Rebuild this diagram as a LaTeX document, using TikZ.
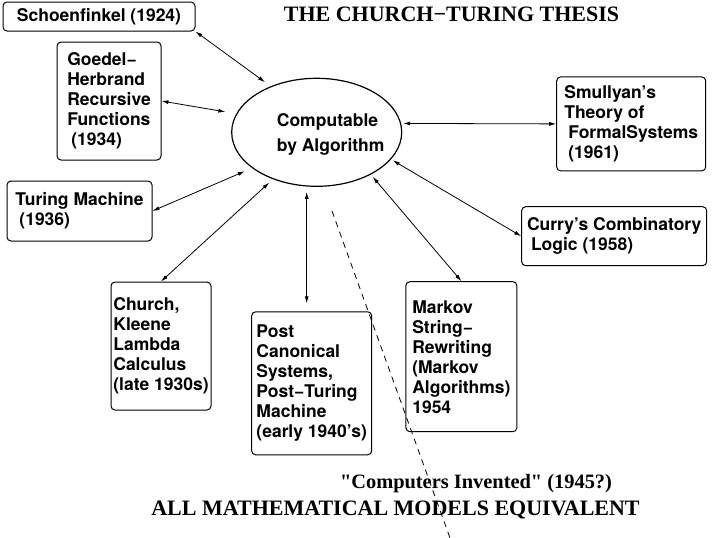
\documentclass[tikz,border=0pt]{standalone}
\usepackage{fontspec}
\setmainfont{Liberation Serif}
\newfontfamily\boxfont{TeX Gyre Heros}
\usetikzlibrary{
    shapes,
    arrows.meta,
    positioning
}

\begin{document}
\begin{tikzpicture}[x=1pt, y=-1pt,
    model/.style={draw, rounded corners=4pt, line width=1pt, align=left, inner sep=2pt,
        font=\boxfont\bfseries\fontsize{17.5}{20}\selectfont},
    link/.style={{Latex[length=7pt,width=4pt]}-{Latex[length=7pt,width=4pt]}, line width=0.8pt, shorten >=4pt},
    heading/.style={anchor=base, font=\bfseries\fontsize{22}{24}\selectfont}]
    \useasboundingbox (0,0) rectangle (715,538);

    \node[heading] (title) at (451.5,21.7) {THE CHURCH−TURING THESIS};

    \node[draw, ellipse, line width=1.2pt, minimum width=170pt, minimum height=108pt, inner sep=0pt,
        label={[xshift=14pt, yshift=-2.4pt, align=left, font=\boxfont\bfseries\fontsize{17.5}{25}\selectfont]center:Computable\\by Algorithm}]
        (comp) at (316.7,132.3) {};

    \node[model, minimum width=192pt, minimum height=29pt] (schoen) at (99,16.5) {Schoenfinkel (1924)};
    \node[model, minimum width=104pt, minimum height=118pt] (goedel) at (109,101)
        {Goedel−\\Herbrand\\Recursive\\Functions\\\hspace*{4pt}(1934)};
    \node[model, minimum width=145pt, minimum height=60pt] (turing) at (79.5,211)
        {Turing Machine\\\hspace*{4pt}(1936)};
    \node[model, minimum width=100pt, minimum height=128pt] (church) at (161,346)
        {Church,\\Kleene\\Lambda\\Calculus\\(late 1930s)};
    \node[model, minimum width=120pt, minimum height=143pt] (post) at (311.7,383.3)
        {Post\\Canonical\\Systems,\\Post−Turing\\Machine\\(early 1940’s)};
    \node[model, minimum width=111pt, minimum height=150pt] (markov) at (461.4,356.7)
        {Markov\\String−\\Rewriting\\(Markov\\Algorithms)\\1954};
    \node[model, minimum width=149pt, minimum height=94pt] (smul) at (631.2,123.9)
        {Smullyan’s\\Theory of\\\hspace*{4pt}FormalSystems\\\hspace*{4pt}(1961)};
    \node[model, minimum width=185pt, minimum height=59pt] (curry) at (614.2,236.2)
        {Curry’s Combinatory\\\hspace*{4pt}Logic (1958)};

    \draw[link, shorten >=7pt] (schoen.south east) -- (comp.135);
    \draw[link, shorten >=11pt] (goedel.east) -- (comp.167);
    \draw[link, shorten >=8pt] (turing.east) -- (comp.209);
    \draw[link, shorten >=5pt] (church.north) -- (comp.227);
    \draw[link, shorten <=8pt, shorten >=5pt] ([xshift=-5pt]post.north) -- ([xshift=-5pt]post.north |- comp.south);
    \draw[link, shorten >=3pt] (markov.north) -- (comp.-38);
    \draw[link, shorten >=2pt] (smul.west) -- (comp.6);
    \draw[link, shorten >=2pt] (curry.west) -- (comp.-20);

    \coordinate (era top) at (332,211);
    \coordinate (era end) at (450,538);
    \draw[dashed, line width=0.8pt, dash pattern=on 6pt off 5pt] (era top) -- (era end);

    \node[anchor=base, font=\bfseries\fontsize{20.4}{22}\selectfont] (invented) at (476,488)
        {\textquotedbl Computers Invented\textquotedbl\ (1945?)};
    \node[heading] (equiv) at (395.5,515) {ALL MATHEMATICAL MODELS EQUIVALENT};
\end{tikzpicture}
\end{document}
